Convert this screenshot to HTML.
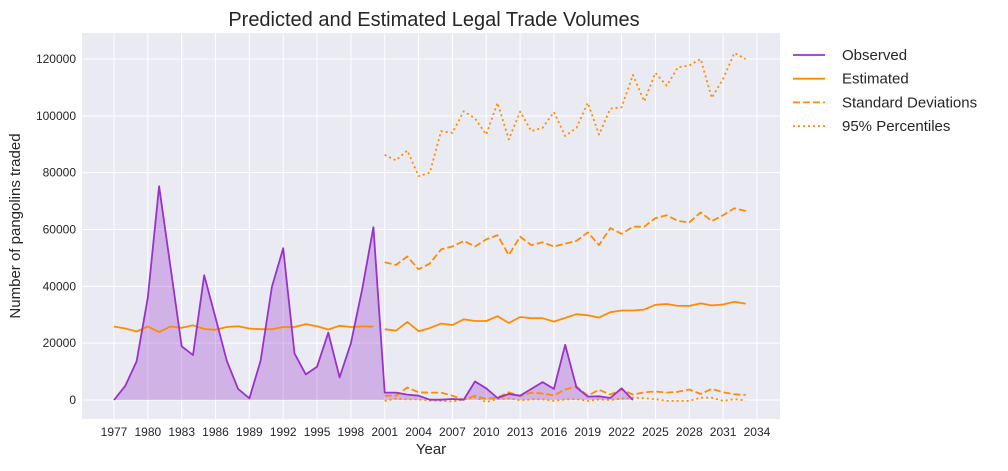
<!DOCTYPE html>
<html><head><meta charset="utf-8"><style>
body{margin:0;background:#fff;font-family:"Liberation Sans",sans-serif}
svg text{font-family:"Liberation Sans",sans-serif}
</style></head><body>
<svg id="c" width="1008" height="466"></svg>
<script>
const obsYears=[];for(let y=1977;y<=2023;y++)obsYears.push(y);
const observed=[0,5000,13600,36000,75200,47000,18900,15800,43900,29000,13800,3900,600,13800,39800,53400,16400,9000,11700,23700,7950,20000,39000,60800,
2600,2600,1900,1500,100,100,350,100,6500,4100,700,2100,1500,3900,6300,3900,19400,4400,1200,1300,700,4100,0];
const histYears=[];for(let y=1977;y<=2000;y++)histYears.push(y);
const estHist=[25850,25150,24100,25850,23900,25850,25400,26300,25000,24700,25700,25950,25150,24900,24900,25700,25700,26700,25950,24800,26100,25700,25850,25850];
const futYears=[];for(let y=2001;y<=2033;y++)futYears.push(y);
const estFut=[24900,24400,27500,24200,25300,26900,26400,28400,27800,27800,29500,27100,29200,28800,28800,27600,28900,30200,29800,29000,30900,31500,31500,31800,33500,33800,33100,33100,34000,33300,33600,34600,33900];
const sdUpper=[48500,47500,50500,46000,48000,53000,54000,56000,54000,56500,58000,51000,57500,54500,55500,54000,55000,56000,59000,54500,60500,58500,61000,61000,64000,65000,63000,62500,66000,63000,65000,67500,66500];
const sdLower=[1500,1500,4400,2700,2600,2600,1500,100,1500,350,900,2700,1400,2600,2300,1600,3700,4700,1500,3600,1900,3700,1900,2700,3000,2600,2900,3700,2100,3900,2700,2000,1800];
const pUpper=[86300,84300,87800,78800,80000,94600,94000,101600,99100,93400,104600,91700,101500,94600,95800,101300,92900,95800,104600,93400,102500,103000,114400,105100,115100,110600,117100,117700,120000,106300,113000,122100,120000];
const pLower=[-300,500,200,200,-200,-300,-500,200,1000,-700,300,600,-100,200,200,-300,200,300,-300,200,0,500,800,600,300,-300,-300,-300,800,800,-300,300,-200];
const xTicks=[];for(let y=1977;y<=2034;y+=3)xTicks.push(y);
const yTicks=[0,20000,40000,60000,80000,100000,120000];

const L=82,R=780,T=33,B=419;
const X=y=>114+(y-1977)*11.28;
const Y=v=>400-v*(341/120000);
const svg=document.getElementById('c');const NS='http://www.w3.org/2000/svg';
function mk(t,a,p){const e=document.createElementNS(NS,t);for(const k in a)e.setAttribute(k,a[k]);(p||svg).appendChild(e);return e;}
const bg=mk('rect',{x:L,y:T,width:R-L,height:B-T,fill:'#eaeaf2'});


xTicks.forEach(t=>{const g=mk('line',{x1:X(t),x2:X(t),y1:T,y2:B,stroke:'#fff','stroke-width':1});


const tx=mk('text',{x:X(t),y:B+17,'text-anchor':'middle','font-size':12,fill:'#262626'});tx.textContent=t;

});
yTicks.forEach(t=>{const g=mk('line',{x1:L,x2:R,y1:Y(t),y2:Y(t),stroke:'#fff','stroke-width':1});


const tx=mk('text',{x:L-6,y:Y(t)+4,'text-anchor':'end','font-size':12,fill:'#262626'});tx.textContent=t;

});
function pts(xs,vs){return xs.map((x,i)=>X(x).toFixed(1)+','+Y(vs[i]).toFixed(1)).join(' ');}
const area=mk('polygon',{points:pts(obsYears,observed)+' '+X(2023)+','+Y(0)+' '+X(1977)+','+Y(0),fill:'#9932cc','fill-opacity':0.3});


function line(xs,vs,col,dash,name){const e=mk('polyline',{points:pts(xs,vs),fill:'none',stroke:col,'stroke-width':1.8,'stroke-dasharray':dash||'none','stroke-linejoin':'round'});

}
const O='#ff8c00';
line(histYears,estHist,O,null,'estimated-line-historic');
line(futYears,estFut,O,null,'estimated-line-forecast');
line(futYears,sdUpper,O,'7,3','std-upper-line');
line(futYears,sdLower,O,'7,3','std-lower-line');
line(futYears,pUpper,O,'2,3','percentile-upper-line');
line(futYears,pLower,O,'2,3','percentile-lower-line');
line(obsYears,observed,'#9932cc',null,'observed-line');
function txt(s,a,name){const e=mk('text',a);e.textContent=s;

return e;}
txt('Predicted and Estimated Legal Trade Volumes',{x:434,y:26,'text-anchor':'middle','font-size':20,fill:'#262626'},'chart-title');
txt('Year',{x:431,y:454,'text-anchor':'middle','font-size':15,fill:'#262626'},'x-axis-title');
txt('Number of pangolins traded',{x:0,y:0,transform:'translate(20,226) rotate(-90)','text-anchor':'middle','font-size':15,fill:'#262626'},'y-axis-title');
const leg=[['Observed','#9932cc','none','legend-observed'],['Estimated',O,'none','legend-estimated'],['Standard Deviations',O,'7,3','legend-std'],['95% Percentiles',O,'2,3','legend-percentiles']];
leg.forEach((l,i)=>{const y=55+i*23.7;
const s=mk('line',{x1:793,x2:825,y1:y,y2:y,stroke:l[1],'stroke-width':1.8,'stroke-dasharray':l[2]});


txt(l[0],{x:842,y:y+5,'font-size':15,fill:'#262626'},l[3]);});
</script>
</body></html>
